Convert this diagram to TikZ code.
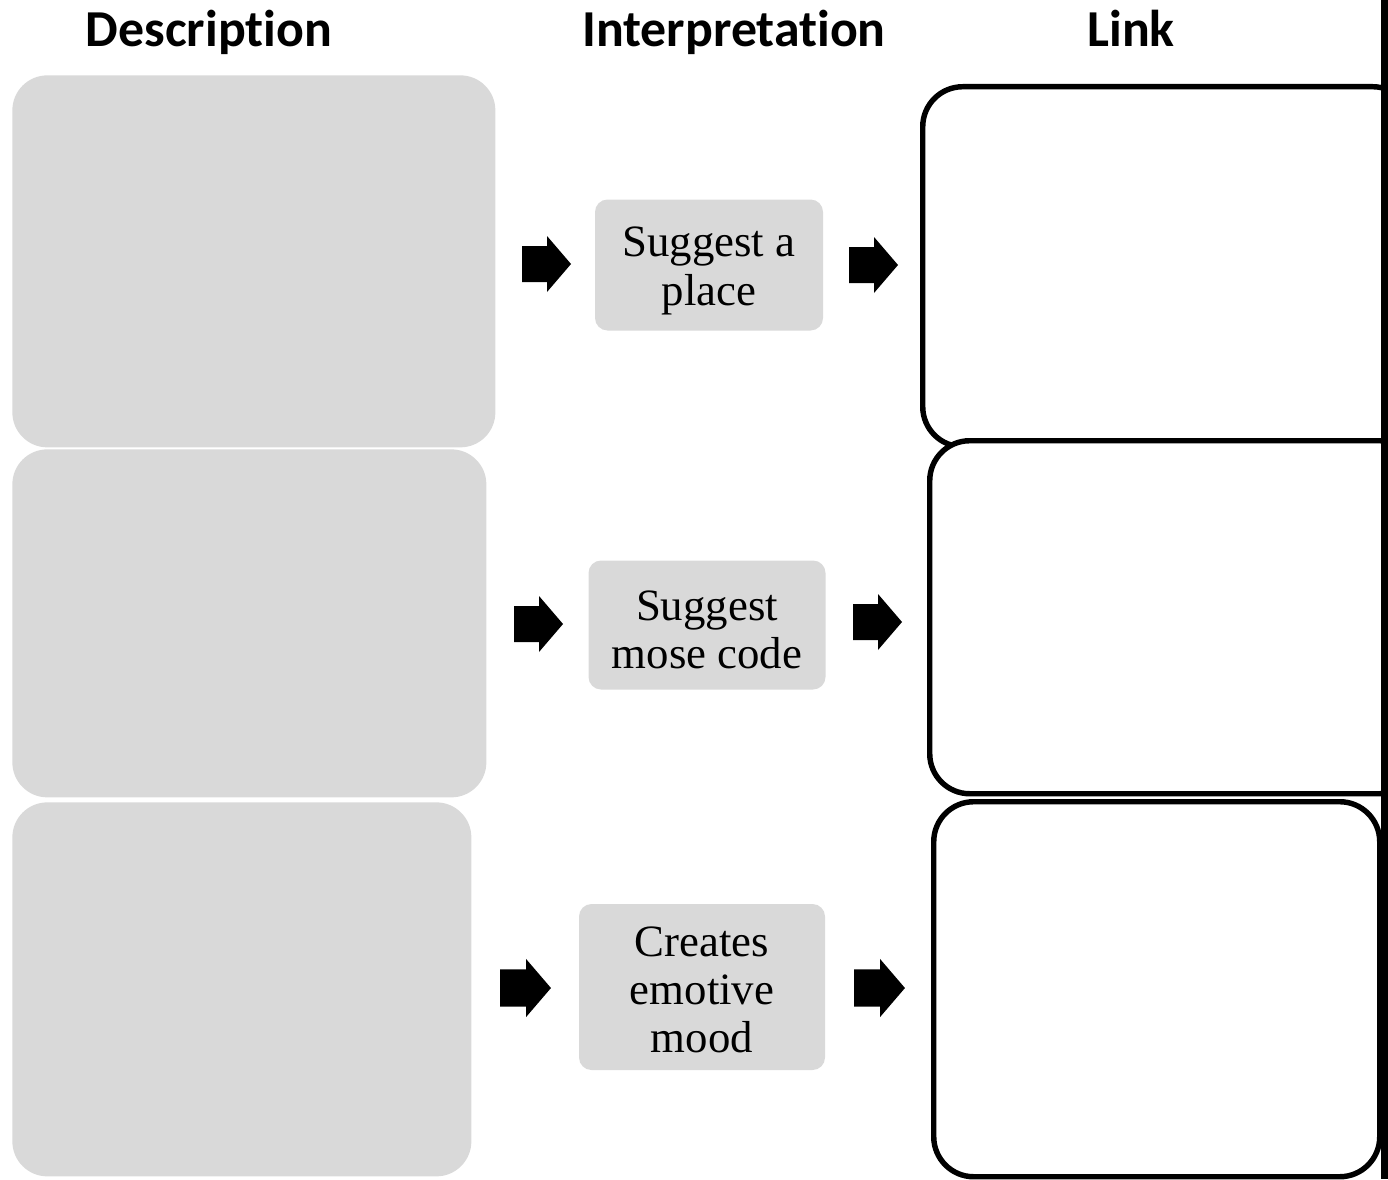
\documentclass[tikz,border=0pt]{standalone}
\usepackage{fontspec}
\newfontfamily\headfont[Ligatures=NoCommon]{Carlito}
\newfontfamily\boxfont{Liberation Serif}
\begin{document}
\begin{tikzpicture}[x=0.02cm,y=-0.02cm,
  bigbox/.style={fill=graybox,draw=none,rounded corners=0.7cm,anchor=north west,inner sep=0pt},
  linkbox/.style={draw=black,line width=3.1pt,fill=white,rounded corners=0.8cm,anchor=north west,inner sep=0pt},
  interp/.style={fill=graybox,draw=none,rounded corners=0.25cm,inner sep=0pt},
  itext/.style={inner sep=0pt,align=center,font=\boxfont\fontsize{25.5}{27.4}\selectfont},
  header/.style={font=\headfont\bfseries\fontsize{29.5}{32}\selectfont,inner sep=0pt,anchor=base},
  blockarrow/.pic={\fill[black] (-25,-18) -- (0,-18) -- (0,-28) -- (24,0) -- (0,28) -- (0,18) -- (-25,18) -- cycle;}
]
\definecolor{graybox}{HTML}{D9D9D9}
\useasboundingbox (0,0) rectangle (1388,1179);
% headers
\node[header] (hdesc) at (209,47) {Description};
\node[header] (hinterp) at (734,47) {Interpretation};
\node[header] (hlink) at (1131,47) {Link};
% description boxes
\node[bigbox,minimum width=483*0.02cm,minimum height=372*0.02cm] (d1) at (12,75) {};
\node[bigbox,minimum width=474*0.02cm,minimum height=348*0.02cm] (d2) at (12,449) {};
\node[bigbox,minimum width=459*0.02cm,minimum height=374*0.02cm] (d3) at (12,802) {};
% interpretation boxes
\node[interp,minimum width=228*0.02cm,minimum height=131*0.02cm] (i1) at (709,265) {};
\node[interp,minimum width=237*0.02cm,minimum height=129*0.02cm] (i2) at (707,625) {};
\node[interp,minimum width=246*0.02cm,minimum height=166*0.02cm] (i3) at (702,987) {};
\node[itext] (t1) at ([yshift=-0.12cm]i1.center) {Suggest a\\place};
\node[itext] (t2) at ([yshift=-0.1cm]i2.center) {Suggest\\mose code};
\node[itext] (t3) at ([yshift=-0.06cm]i3.center) {Creates\\emotive\\mood};
% link boxes (clipped by the right bar)
\begin{scope}
\clip (0,0) rectangle (1381,1179);
\node[linkbox,minimum width=490*0.02cm,minimum height=360*0.02cm] (l1) at (920,84) {};
\node[linkbox,minimum width=490*0.02cm,minimum height=353*0.02cm] (l2) at (927,438) {};
\node[linkbox,minimum width=446*0.02cm,minimum height=375*0.02cm] (l3) at (931,799) {};
\end{scope}
\fill[black] (1381,0) rectangle (1388,1179);
% arrows
\pic at (547,264) {blockarrow};
\pic at (874,265) {blockarrow};
\pic at (539,624) {blockarrow};
\pic at (878,622) {blockarrow};
\pic[scale=1.04] at (526,988) {blockarrow};
\pic[scale=1.04] at (880,988) {blockarrow};
\end{tikzpicture}
\end{document}
